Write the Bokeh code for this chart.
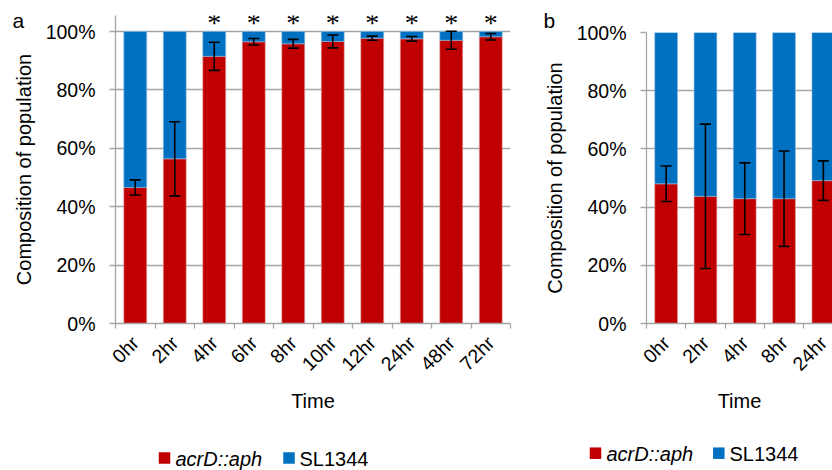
import math
from bokeh.plotting import figure
from bokeh.models import (ColumnDataSource, Whisker, TeeHead, Label, LabelSet,
                          FixedTicker, NumeralTickFormatter, Range1d,
                          CustomJSTickFormatter, GridBox)
from bokeh.embed import file_html
from bokeh.resources import INLINE

FONT = "Liberation Sans"
RED = "#C00000"
BLUE = "#0070C0"
GRID = "#A6A6A6"

# ---------------- data ----------------
times_a = ["0hr", "2hr", "4hr", "6hr", "8hr", "10hr", "12hr", "24hr", "48hr", "72hr"]
acrd_a = [0.466, 0.564, 0.915, 0.965, 0.958, 0.966, 0.977, 0.975, 0.970, 0.982]
err_a = [0.026, 0.127, 0.048, 0.011, 0.015, 0.022, 0.007, 0.008, 0.031, 0.011]
sig_a = ["", "", "*", "*", "*", "*", "*", "*", "*", "*"]

times_b = ["0hr", "2hr", "4hr", "8hr", "24hr"]
acrd_b = [0.480, 0.437, 0.429, 0.429, 0.491]
err_b = [0.061, 0.248, 0.123, 0.164, 0.068]

y_ticks = [0, 0.2, 0.4, 0.6, 0.8, 1.0]
series_names = ["acrD::aph", "SL1344"]
panel_letters = ["a", "b"]


def make_panel(times, acrd, err, width, height, x_end, y_end, borders):
    n = len(times)
    src = ColumnDataSource(dict(
        x=list(range(n)),
        acrd=acrd,
        total=[1.0] * n,
        upper=[a + e for a, e in zip(acrd, err)],
        lower=[a - e for a, e in zip(acrd, err)],
    ))
    p = figure(width=width, height=height, output_backend="svg", toolbar_location=None,
               x_range=Range1d(-0.5, x_end), y_range=Range1d(0, y_end),
               min_border_left=borders[0], min_border_right=borders[1],
               min_border_top=borders[2], min_border_bottom=borders[3],
               frame_align=False)
    p.outline_line_color = None
    p.background_fill_color = "white"
    p.border_fill_color = "white"

    p.vbar(x="x", bottom=0, top="acrd", width=0.58, source=src,
           fill_color=RED, line_color="#E9A3A3", line_width=0.6)
    p.vbar(x="x", bottom="acrd", top="total", width=0.58, source=src,
           fill_color=BLUE, line_color="#8FC0E6", line_width=0.6)

    head = dict(size=11, line_color="black", line_width=1.6)
    p.add_layout(Whisker(source=src, base="x", upper="upper", lower="lower",
                         line_color="black", line_width=1.6, level="overlay",
                         upper_head=TeeHead(**head), lower_head=TeeHead(**head)))

    p.xgrid.visible = False
    p.ygrid.ticker = FixedTicker(ticks=y_ticks)
    p.ygrid.grid_line_color = GRID
    p.ygrid.grid_line_width = 1.3

    ya = p.yaxis[0]
    ya.ticker = FixedTicker(ticks=y_ticks)
    ya.formatter = NumeralTickFormatter(format="0%")
    ya.axis_line_color = GRID
    ya.axis_line_width = 1.3
    ya.major_tick_line_color = GRID
    ya.major_tick_line_width = 1.3
    ya.major_tick_out = 6
    ya.major_tick_in = 0
    ya.minor_tick_line_color = None
    ya.major_label_text_font = FONT
    ya.major_label_text_font_size = "19.5px"
    ya.major_label_text_color = "black"
    ya.major_label_standoff = 14
    ya.axis_label = "Composition of population"
    ya.axis_label_text_font = FONT
    ya.axis_label_text_font_size = "20px"
    ya.axis_label_text_font_style = "normal"
    ya.axis_label_text_color = "black"
    ya.axis_label_standoff = 8

    xa = p.xaxis[0]
    xa.ticker = FixedTicker(ticks=list(range(n)),
                            minor_ticks=[i - 0.5 for i in range(n + 1)])
    xa.formatter = CustomJSTickFormatter(args=dict(labels=times),
                                         code="return labels[Math.round(tick)] || '';")
    xa.axis_line_color = GRID
    xa.axis_line_width = 1.3
    xa.major_tick_line_color = None
    xa.minor_tick_line_color = GRID
    xa.minor_tick_line_width = 1.3
    xa.minor_tick_out = 5
    xa.minor_tick_in = 0
    xa.major_label_orientation = math.pi / 4
    xa.major_label_text_font = FONT
    xa.major_label_text_font_size = "19.5px"
    xa.major_label_text_color = "black"
    xa.major_label_standoff = 10
    xa.axis_label = "Time"
    xa.axis_label_text_font = FONT
    xa.axis_label_text_font_size = "20px"
    xa.axis_label_text_font_style = "normal"
    xa.axis_label_text_color = "black"
    xa.axis_label_standoff = 4
    return p, src


W, H = 832, 470

# ---------------- panel a ----------------
pa, src_a = make_panel(times_a, acrd_a, err_a, width=540, height=H,
                       x_end=9.5, y_end=(323 - 15) / 292, borders=(115, 30, 15, 147))
src_a.data["sig"] = sig_a
pa.add_layout(LabelSet(x="x", y=1.0, text="sig", source=src_a,
                       text_font=FONT, text_font_size="28px", text_color="black",
                       text_align="center", text_baseline="alphabetic"))

# ---------------- panel b ----------------
pb, src_b = make_panel(times_b, acrd_b, err_b, width=W - 540, height=H,
                       x_end=-0.5 + (W - 646) / 39.3, y_end=1.0,
                       borders=(106, 0, 32, 147))

# ---------------- overlay: panel letters and legends ----------------
ov = figure(width=W, height=H, output_backend="svg", toolbar_location=None,
            x_range=Range1d(0, W), y_range=Range1d(H, 0), min_border=0,
            x_axis_location=None, y_axis_location=None, frame_align=False)
ov.grid.visible = False
ov.outline_line_color = None
ov.background_fill_color = None
ov.border_fill_color = None

for letter, lx in zip(panel_letters, [12, 543]):
    ov.add_layout(Label(x=lx, y=20, text=letter, text_font=FONT,
                        text_font_size="21px", text_color="black",
                        text_baseline="alphabetic"))

legend_spots = [  # (square centre x, text left x, row centre y) per series, per panel
    [(164, 175, 457.5), (288.5, 299, 457.5)],
    [(595, 606, 452.7), (718.3, 729, 452.7)],
]
for spots in legend_spots:
    ov.scatter(x=[s[0] for s in spots], y=[s[2] for s in spots], marker="square",
               size=11.5, fill_color=[RED, BLUE], line_color=None)
    for (sx, tx, cy), name, style in zip(spots, series_names, ["italic", "normal"]):
        ov.add_layout(Label(x=tx, y=cy + 0.5, text=name, text_font=FONT,
                            text_font_size="20px", text_font_style=style,
                            text_color="black", text_baseline="alphabetic"))

layout = GridBox(children=[(pa, 0, 0), (pb, 0, 1), (ov, 0, 0, 1, 2)])
open("out.html", "w").write(file_html(layout, INLINE))
